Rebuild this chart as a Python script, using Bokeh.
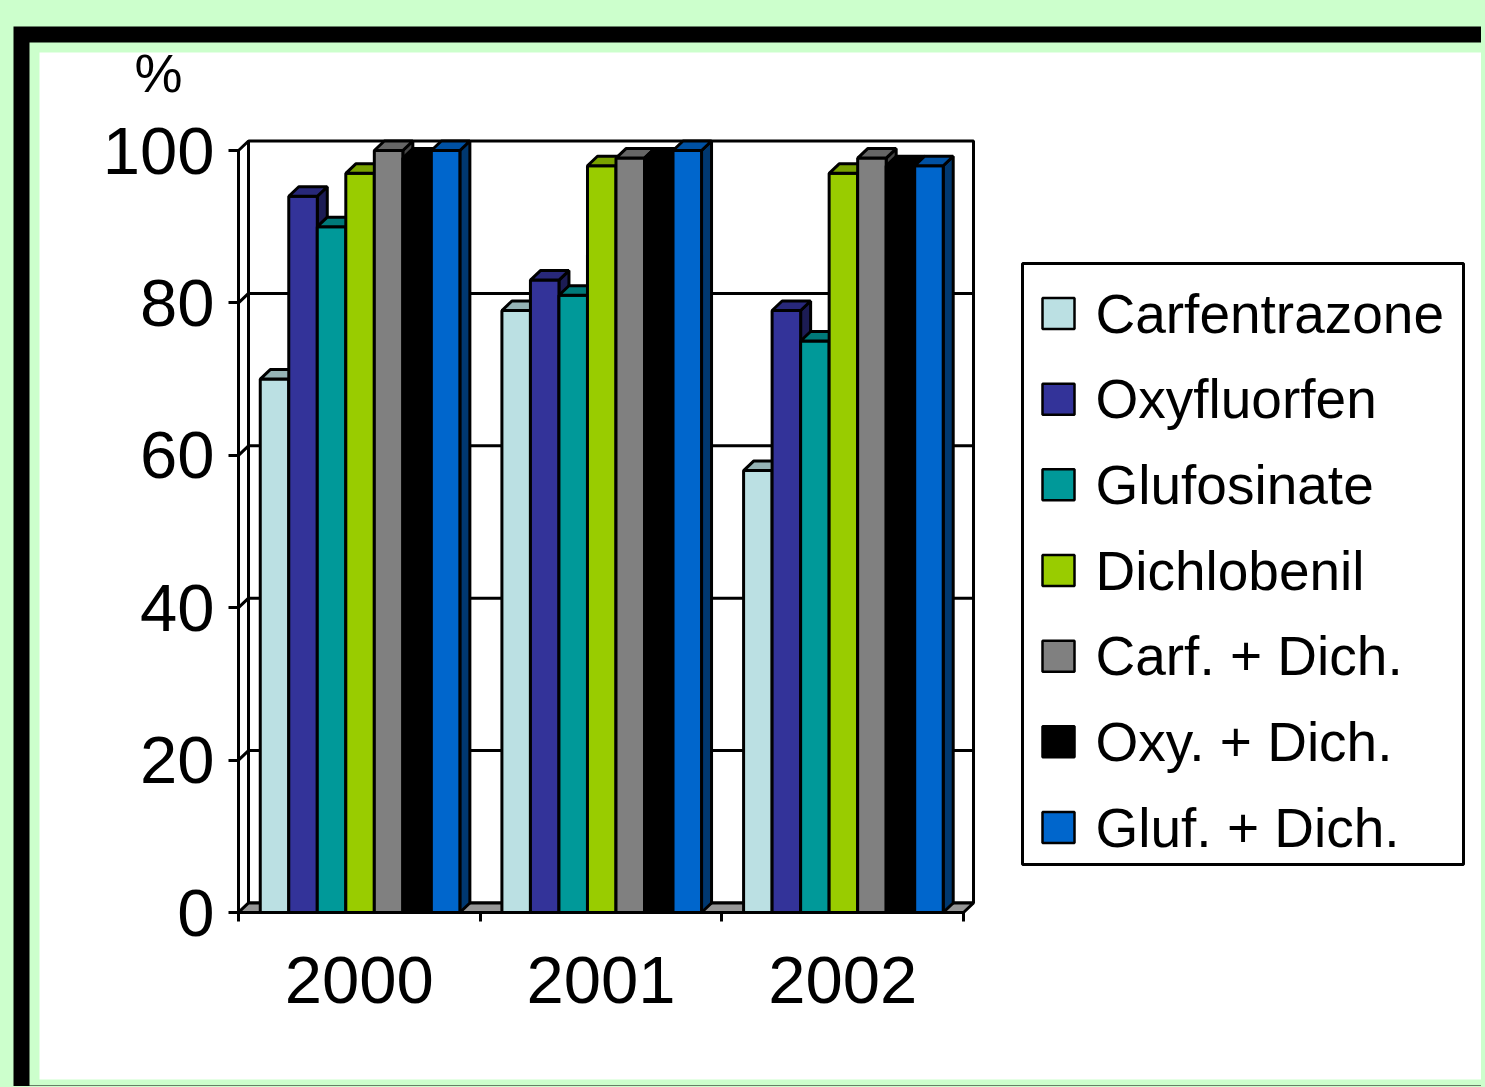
from bokeh.plotting import figure
from bokeh.models import Range1d, LinearAxis, FixedTicker, GlobalInlineStyleSheet
from bokeh.embed import file_html
from bokeh.resources import INLINE
from bokeh.core.properties import value

# ---------------- data ----------------
years = ["2000", "2001", "2002"]
series = ["Carfentrazone", "Oxyfluorfen", "Glufosinate", "Dichlobenil",
          "Carf. + Dich.", "Oxy. + Dich.", "Gluf. + Dich."]
carfentrazone = [70, 79, 58]
oxyfluorfen = [94, 83, 79]
glufosinate = [90, 81, 75]
dichlobenil = [97, 98, 97]
carf_dich = [100, 99, 99]
oxy_dich = [99, 99, 98]
gluf_dich = [100, 100, 98]
y_ticks = [0, 20, 40, 60, 80, 100]
y_unit = "%"

values = [carfentrazone, oxyfluorfen, glufosinate, dichlobenil, carf_dich, oxy_dich, gluf_dich]
colors = ["#BBE0E3", "#333399", "#009999", "#99CC00", "#808080", "#000000", "#0066CC"]

# ---------------- layout constants ----------------
FIG_W, FIG_H = 1481, 1086
AX_X0, UNIT_PX = 238.0, 241.67     # px of x=0, px per category slot
AX_Y0, PCT_PX = 912.0, 7.62        # px of y=0, px per percent
DX = 10.0 / UNIT_PX                # 3D depth offset
DY = 9.5 / PCT_PX
OFF, W = 0.09, 0.118               # bar offset in slot, bar width
FONT = "Liberation Sans"
LW = 3

def shade(hexc, f):
    h = hexc.lstrip("#")
    r, g, b = (int(h[k:k + 2], 16) for k in (0, 2, 4))
    return "#%02x%02x%02x" % (int(r * f), int(g * f), int(b * f))

p = figure(width=FIG_W, height=FIG_H, output_backend="svg", toolbar_location=None,
           x_range=Range1d(-AX_X0 / UNIT_PX, (FIG_W - AX_X0) / UNIT_PX),
           y_range=Range1d(-(FIG_H - AX_Y0) / PCT_PX, AX_Y0 / PCT_PX),
           x_axis_location=None, y_axis_location=None,
           min_border=0, min_border_left=0, min_border_right=0,
           min_border_top=0, min_border_bottom=0)
p.outline_line_color = None
p.grid.visible = False
p.background_fill_color = "#CCFFCC"
p.border_fill_color = "#CCFFCC"
p.stylesheets = [GlobalInlineStyleSheet(css="body { background-color: #CCFFCC; }")]
p.extra_x_ranges = {"px": Range1d(0, FIG_W)}
p.extra_y_ranges = {"px": Range1d(FIG_H, 0)}

# ---------------- page frame ----------------
px = dict(x_range_name="px", y_range_name="px")
p.quad(left=[13], right=[FIG_W + 20], top=[26], bottom=[FIG_H + 20],
       fill_color="black", line_color=None, **px)
p.quad(left=[29], right=[FIG_W + 20], top=[42], bottom=[1085],
       fill_color="#CCFFCC", line_color=None, **px)
p.quad(left=[39], right=[FIG_W + 20], top=[52], bottom=[1079],
       fill_color="white", line_color=None, **px)

# ---------------- 3D walls / floor ----------------
n = len(years)
ymax = y_ticks[-1]
p.patch([0, DX, DX, 0], [0, DY, ymax + DY, ymax], fill_color="white",
        line_color="black", line_width=LW)
p.quad(left=[DX], right=[n + DX], bottom=[DY], top=[ymax + DY], fill_color="white",
       line_color="black", line_width=LW)
p.multi_line(xs=[[0, DX, n + DX] for _ in y_ticks[1:-1]],
             ys=[[v, v + DY, v + DY] for v in y_ticks[1:-1]],
             line_color="black", line_width=LW)
p.patch([0, n, n + DX, DX], [0, 0, DY, DY], fill_color="#969696",
        line_color="black", line_width=LW)

# ---------------- bars ----------------
for i, (vals, col) in enumerate(zip(values, colors)):
    lefts = [g + OFF + i * W for g in range(n)]
    rights = [l + W for l in lefts]
    side_xs = [[r, r + DX, r + DX, r] for r in rights]
    side_ys = [[0, DY, v + DY, v] for v in vals]
    p.patches(side_xs, side_ys, fill_color=shade(col, 0.55), line_color="black",
              line_width=LW)
    p.vbar(x=[l + W / 2 for l in lefts], top=vals, bottom=0, width=W,
           fill_color=col, line_color="black", line_width=LW)
    top_xs = [[l, r, r + DX, l + DX] for l, r in zip(lefts, rights)]
    top_ys = [[v, v, v + DY, v + DY] for v in vals]
    p.patches(top_xs, top_ys, fill_color=shade(col, 0.8), line_color="black",
              line_width=LW)

# ---------------- axes ----------------
yax = LinearAxis(ticker=FixedTicker(ticks=y_ticks), fixed_location=0, bounds=(0, ymax))
yax.axis_line_width = LW
yax.major_tick_line_width = LW
yax.major_tick_out = 10
yax.major_tick_in = 0
yax.minor_tick_line_color = None
yax.major_label_standoff = 14
yax.major_label_text_font = FONT
yax.major_label_text_font_size = "67px"
yax.major_label_text_color = "black"
p.add_layout(yax, "left")

xax = LinearAxis(ticker=FixedTicker(ticks=list(range(n + 1))), fixed_location=0, bounds=(0, n))
xax.axis_line_width = LW
xax.major_tick_line_width = LW
xax.major_tick_out = 9
xax.major_tick_in = 0
xax.minor_tick_line_color = None
xax.major_label_text_color = None
p.add_layout(xax, "below")

centers = [g + 0.5 for g in range(n)]
lax = LinearAxis(ticker=FixedTicker(ticks=centers), fixed_location=0,
                 major_label_overrides={c: y for c, y in zip(centers, years)})
lax.axis_line_color = None
lax.major_tick_line_color = None
lax.minor_tick_line_color = None
lax.major_tick_out = 0
lax.major_tick_in = 0
lax.major_label_standoff = 44
lax.major_label_text_font = FONT
lax.major_label_text_font_size = "67px"
lax.major_label_text_color = "black"
p.add_layout(lax, "below")

# unit label
p.text(x=[158], y=[72], text=[y_unit], text_font=value(FONT), text_font_size=value("54px"),
       text_align="center", text_baseline="middle", text_color="black", **px)

# ---------------- legend ----------------
LG_L, LG_R, LG_T, LG_B = 1022, 1463, 263, 864
ROW0, ROW_STEP = 313, 85.67
p.quad(left=[LG_L], right=[LG_R], top=[LG_T], bottom=[LG_B], fill_color="white",
       line_color="black", line_width=LW, **px)
rows = [ROW0 + k * ROW_STEP for k in range(len(series))]
p.quad(left=[1042] * len(series), right=[1074] * len(series),
       top=[r - 15.5 for r in rows], bottom=[r + 15.5 for r in rows],
       fill_color=colors, line_color="black", line_width=2.5, **px)
p.text(x=[1095] * len(series), y=rows, text=series, text_font=value(FONT),
       text_font_size=value("55px"), text_align="left", text_baseline="middle",
       text_color="black", **px)

open("out.html", "w").write(file_html(p, INLINE))
